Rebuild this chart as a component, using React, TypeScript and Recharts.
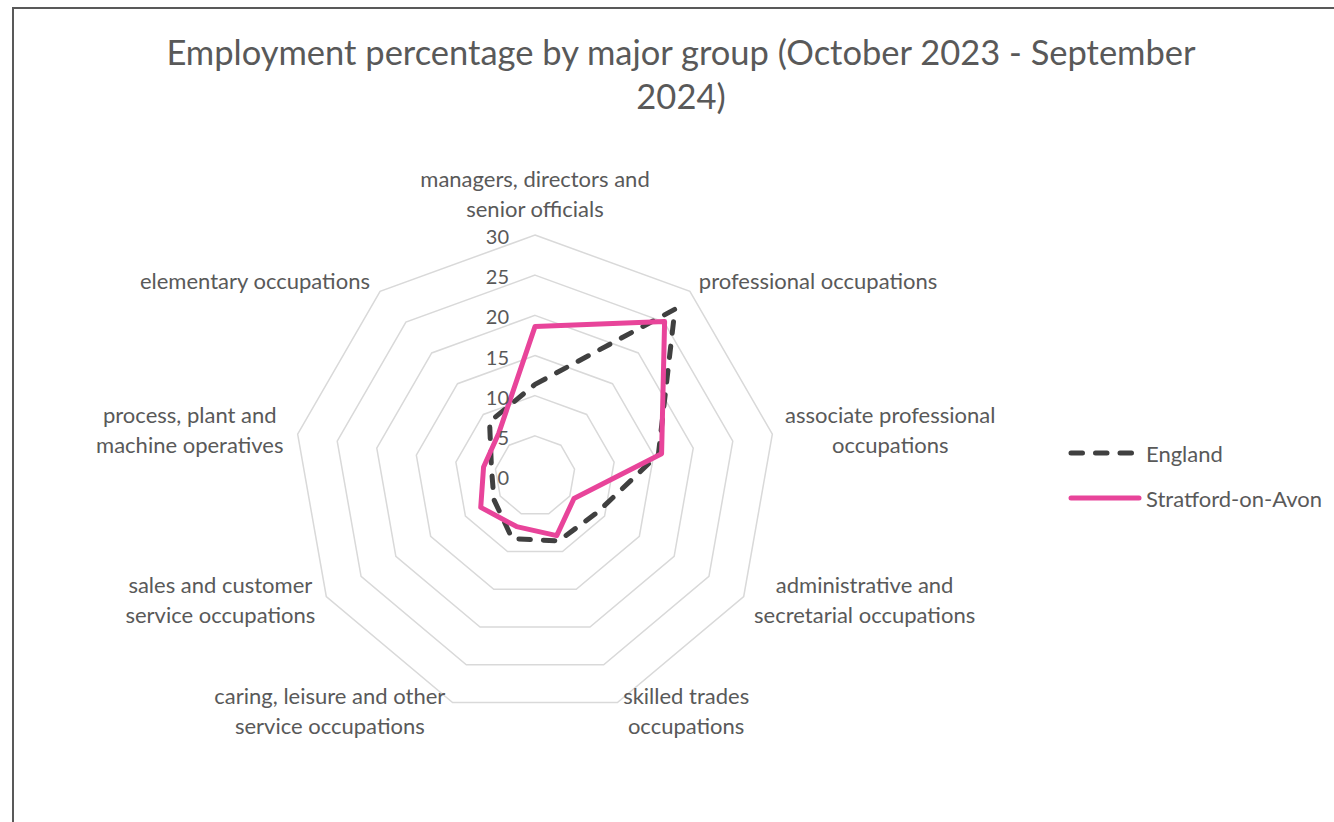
import React from 'react';
import { RadarChart, Radar, PolarGrid, PolarAngleAxis, PolarRadiusAxis } from 'recharts';

const categories = [
  'managers, directors and senior officials',
  'professional occupations',
  'associate professional occupations',
  'administrative and secretarial occupations',
  'skilled trades occupations',
  'caring, leisure and other service occupations',
  'sales and customer service occupations',
  'process, plant and machine operatives',
  'elementary occupations',
];

const labelLines = [
  ['managers, directors and', 'senior officials'],
  ['professional occupations'],
  ['associate professional', 'occupations'],
  ['administrative and', 'secretarial occupations'],
  ['skilled trades', 'occupations'],
  ['caring, leisure and other', 'service occupations'],
  ['sales and customer', 'service occupations'],
  ['process, plant and', 'machine operatives'],
  ['elementary occupations'],
];

const england = [11.4, 27.1, 15.6, 9.0, 8.6, 8.3, 5.9, 5.5, 8.8];
const stratford = [18.6, 25.1, 16.0, 5.6, 7.9, 6.7, 7.8, 6.5, 7.0];

const radiusTicks = [0, 5, 10, 15, 20, 25, 30];

const seriesNames = ['England', 'Stratford-on-Avon'];

const data = categories.map((c, i) => ({
  category: c,
  England: england[i],
  Stratford: stratford[i],
}));

const FONT = 'Lato, "Open Sans", sans-serif';
const TEXT = '#595959';
const PINK = '#E8449A';
const DARK = '#404040';

// label block centre offsets relative to tick anchor, and first-line dy
const labelLayout = [
  { dx: 0, dy: -49 },
  { dx: 123, dy: -5 },
  { dx: 110, dy: -18 },
  { dx: 114, dy: -16 },
  { dx: 66, dy: -14 },
  { dx: -120, dy: -14 },
  { dx: -99, dy: -16 },
  { dx: -100, dy: -18 },
  { dx: -120, dy: -5 },
];

const AngleTick = (props: any) => {
  const { x, y, payload } = props;
  const idx = payload?.index ?? categories.indexOf(payload?.value);
  const lines = labelLines[idx] || [String(payload?.value)];
  const lay = labelLayout[idx] || { dx: 0, dy: 0 };
  return (
    <text
      x={x + lay.dx}
      y={y + lay.dy}
      textAnchor="middle"
      fill={TEXT}
      fontSize={22}
      fontFamily={FONT}
    >
      {lines.map((l, i) => (
        <tspan key={i} x={x + lay.dx} y={y + lay.dy + i * 30} dominantBaseline="central">
          {l}
        </tspan>
      ))}
    </text>
  );
};

const RadiusTick = (props: any) => {
  const { x, y, payload } = props;
  return (
    <text
      x={x - 26}
      y={y + 1}
      textAnchor="end"
      dominantBaseline="central"
      fill={TEXT}
      fontSize={20}
      fontFamily={FONT}
    >
      {payload.value}
    </text>
  );
};

export default function App() {
  return (
    <div
      style={{
        position: 'absolute',
        left: 0,
        top: 0,
        width: 1334,
        height: 822,
        background: '#fff',
        overflow: 'hidden',
        fontFamily: FONT,
      }}
    >
      <div
        style={{
          position: 'absolute',
          left: 12,
          top: 7,
          right: -4,
          bottom: -4,
          borderLeft: '2px solid #595959',
          borderTop: '2px solid #595959',
        }}
      />
      <div
        style={{
          position: 'absolute',
          left: 0,
          top: 30,
          width: 1362,
          textAlign: 'center',
          color: TEXT,
          fontSize: 34.5,
          lineHeight: '44px',
          fontFamily: FONT,
        }}
      >
        Employment percentage by major group (October 2023 - September
        <br />
        2024)
      </div>
      <div style={{ position: 'absolute', left: 0, top: 0 }}>
        <RadarChart
          width={1334}
          height={822}
          data={data}
          cx={535}
          cy={476}
          outerRadius={241}
          margin={{ top: 0, right: 0, bottom: 0, left: 0 }}
        >
          <PolarGrid radialLines={false} stroke="#D9D9D9" strokeWidth={1.5} gridType="polygon" />
          <PolarAngleAxis dataKey="category" tick={<AngleTick />} tickLine={false} axisLine={false} />
          <PolarRadiusAxis
            angle={90}
            domain={[0, 30]}
            ticks={radiusTicks}
            tickCount={7}
            axisLine={false}
            tick={<RadiusTick />}
            tickLine={false}
          />
          <Radar
            name={seriesNames[0]}
            dataKey="England"
            stroke={DARK}
            strokeWidth={5}
            strokeDasharray="11.5 13"
            strokeLinecap="round"
            strokeLinejoin="round"
            fill="none"
            fillOpacity={0}
            isAnimationActive={false}
          />
          <Radar
            name={seriesNames[1]}
            dataKey="Stratford"
            stroke={PINK}
            strokeWidth={5}
            strokeLinejoin="round"
            fill="none"
            fillOpacity={0}
            isAnimationActive={false}
          />
        </RadarChart>
      </div>
      <svg style={{ position: 'absolute', left: 1060, top: 430 }} width={274} height={90}>
        <line x1={11} y1={23} x2={75} y2={23} stroke={DARK} strokeWidth={5} strokeDasharray="11.5 13" strokeLinecap="round" />
        <text x={86} y={23} dominantBaseline="central" fill={TEXT} fontSize={22} fontFamily={FONT}>
          {seriesNames[0]}
        </text>
        <line x1={11} y1={68} x2={79} y2={68} stroke={PINK} strokeWidth={5} strokeLinecap="round" />
        <text x={86} y={68} dominantBaseline="central" fill={TEXT} fontSize={22} fontFamily={FONT}>
          {seriesNames[1]}
        </text>
      </svg>
    </div>
  );
}
